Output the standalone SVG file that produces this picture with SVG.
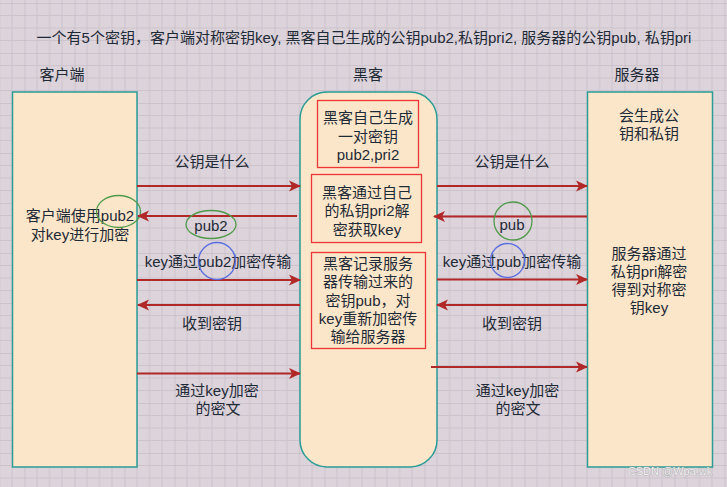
<svg xmlns="http://www.w3.org/2000/svg" width="727" height="487" viewBox="0 0 727 487">
<style>
text{font-family:"Liberation Sans","Noto Sans CJK SC",sans-serif;font-size:15px;fill:#1e2a36;text-anchor:middle;dominant-baseline:central}
.box{fill:#fce6c9;stroke:#2a9d96;stroke-width:1.5}
.red{fill:none;stroke:#ee3535;stroke-width:1.3}
.arr{stroke:#b02828;stroke-width:2;fill:none}
.gr{fill:none;stroke:#4f9a4a;stroke-width:1.3}
.bl{fill:none;stroke:#5a6fe0;stroke-width:1.3}
</style>
<defs>
<pattern id="grid" x="24.5" y="3" width="50" height="50" patternUnits="userSpaceOnUse">
<rect width="50" height="50" fill="#dcd3db"/>
<path d="M12.5 0V50M25 0V50M37.5 0V50M0 12.5H50M0 25H50M0 37.5H50" stroke="#cdc3cc" stroke-width="1"/>
<path d="M0 0V50M0 0H50" stroke="#bfb3be" stroke-width="1"/>
</pattern>
<marker id="ah" viewBox="0 0 12 12" refX="11" refY="6" markerWidth="12" markerHeight="12" markerUnits="userSpaceOnUse" orient="auto">
<path d="M0,0.5 L12,6 L0,11.5 L3,6 z" fill="#b02828"/>
</marker>
</defs>
<rect width="727" height="487" fill="url(#grid)"/>
<text x="364" y="37">一个有5个密钥，客户端对称密钥key, 黑客自己生成的公钥pub2,私钥pri2, 服务器的公钥pub, 私钥pri</text>
<text x="62" y="74">客户端</text>
<text x="368" y="74">黑客</text>
<text x="637" y="74">服务器</text>
<g id="client">
<rect class="box" x="12.5" y="92" width="124.5" height="375"/>
<text x="80" y="215">客户端使用pub2</text>
<text x="80" y="234">对key进行加密</text>
<ellipse class="gr" cx="118.5" cy="211.5" rx="22" ry="16"/>
</g>
<g id="hacker">
<rect class="box" x="300" y="92" width="137" height="375" rx="27" ry="27"/>
<rect class="red" x="317.5" y="100.5" width="101" height="67"/>
<text x="368" y="117">黑客自己生成</text>
<text x="368" y="136">一对密钥</text>
<text x="368" y="154">pub2,pri2</text>
<rect class="red" x="311.5" y="174.5" width="110" height="68"/>
<text x="367" y="192">黑客通过自己</text>
<text x="367" y="210.5">的私钥pri2解</text>
<text x="367" y="229">密获取key</text>
<rect class="red" x="311.5" y="252.5" width="114" height="96"/>
<text x="368" y="263.5">黑客记录服务</text>
<text x="368" y="281.8">器传输过来的</text>
<text x="368" y="300">密钥pub，对</text>
<text x="368" y="318.3">key重新加密传</text>
<text x="368" y="336.5">输给服务器</text>
</g>
<g id="server">
<rect class="box" x="587.5" y="92" width="125" height="375"/>
<text x="649" y="115">会生成公</text>
<text x="649" y="133">钥和私钥</text>
<text x="649" y="253">服务器通过</text>
<text x="649" y="271.5">私钥pri解密</text>
<text x="649" y="289.5">得到对称密</text>
<text x="649" y="307.5">钥key</text>
</g>
<g id="connectors">
<line class="arr" x1="137" y1="186" x2="300" y2="186" marker-end="url(#ah)"/>
<line class="arr" x1="297" y1="216" x2="138" y2="216" marker-end="url(#ah)"/>
<line class="arr" x1="137" y1="280" x2="300" y2="280" marker-end="url(#ah)"/>
<line class="arr" x1="300" y1="305" x2="138" y2="305" marker-end="url(#ah)"/>
<line class="arr" x1="137" y1="373.5" x2="300" y2="373.5" marker-end="url(#ah)"/>
<line class="arr" x1="437" y1="186" x2="587" y2="186" marker-end="url(#ah)"/>
<line class="arr" x1="587" y1="216.5" x2="434" y2="216.5" marker-end="url(#ah)"/>
<line class="arr" x1="437" y1="279.5" x2="587" y2="279.5" marker-end="url(#ah)"/>
<line class="arr" x1="587" y1="305" x2="437" y2="305" marker-end="url(#ah)"/>
<line class="arr" x1="431" y1="367" x2="587" y2="367" marker-end="url(#ah)"/>
</g>
<g id="labels">
<text x="212" y="161.5">公钥是什么</text>
<text x="211" y="225">pub2</text>
<ellipse class="gr" cx="211" cy="224.5" rx="25" ry="14"/>
<text x="218" y="261">key通过pub2加密传输</text>
<circle class="bl" cx="217" cy="261" r="18.5"/>
<text x="212" y="323.5">收到密钥</text>
<text x="217" y="390">通过key加密</text>
<text x="218" y="408">的密文</text>
<text x="512" y="161.5">公钥是什么</text>
<text x="512" y="224.5">pub</text>
<circle class="gr" cx="513" cy="221" r="19"/>
<text x="512" y="261">key通过pub加密传输</text>
<circle class="bl" cx="507.5" cy="260.5" r="17"/>
<text x="512" y="323.5">收到密钥</text>
<text x="517.5" y="390">通过key加密</text>
<text x="518" y="408">的密文</text>
</g>
<text x="670" y="471" style="font-size:11px;fill:#f2f2f2;stroke:#9a9a9a;stroke-width:0.6;paint-order:stroke">CSDN @Wpa.wk</text>
</svg>
